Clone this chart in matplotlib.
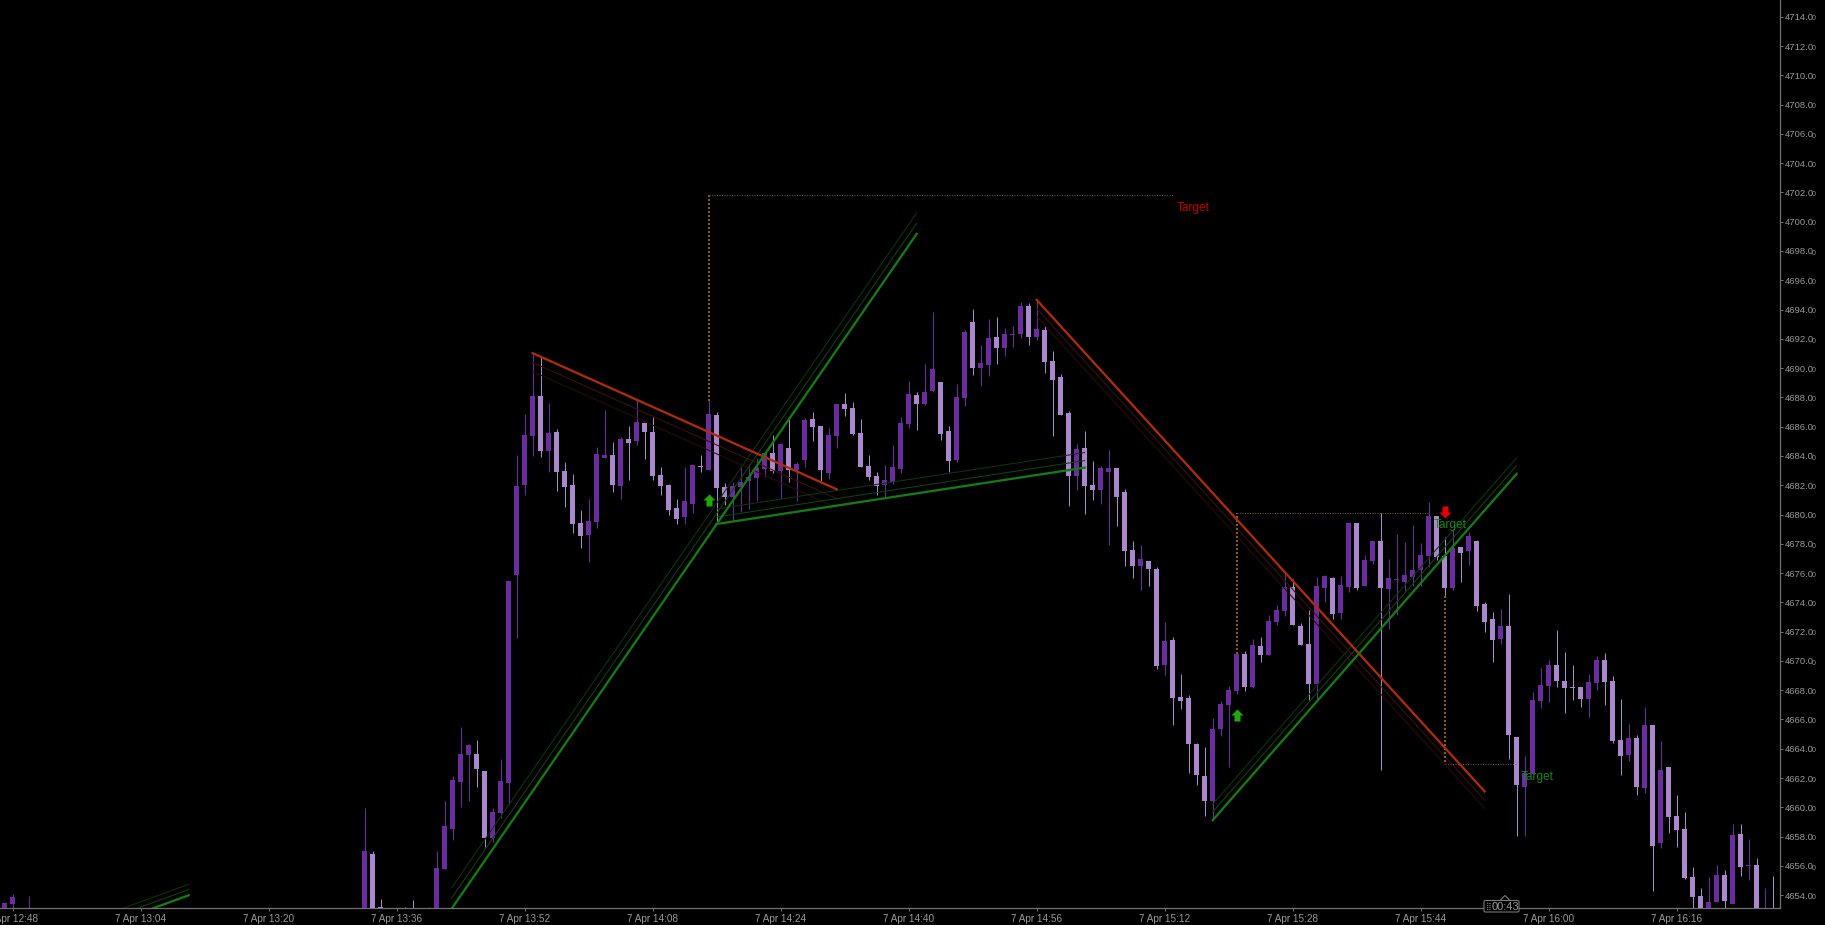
import matplotlib
matplotlib.use("Agg")
import matplotlib.pyplot as plt
from matplotlib.path import Path
from matplotlib.patches import FancyBboxPatch
from matplotlib.lines import Line2D

# candle minute offsets from 7 Apr 12:48
minutes = [-1, 0, 2, 44, 45, 46, 49, 50, 52] + list(range(53, 221))

opens = [4652.0,4653.4,4652.0,4652.0,4656.8,4653.18,4652.5,4652.5,4652.3,
4652.0,4655.8,4658.51,4661.72,4663.57,4663.63,4662.47,4657.89,4659.6,4661.67,
4675.86,4682.02,4685.36,4688.1,4684.34,4685.64,4682.97,4682.02,4679.42,4678.6,
4679.49,4683.86,4684.07,4681.95,4685.16,4685.02,4686.25,4685.64,4682.7,4682.02,
4680.44,4679.83,4680.72,4683.32,4683.04,4686.8,4681.88,4681.2,4681.88,4682.29,
4682.49,4683.11,4684.2,4682.97,4684.54,4683.04,4683.72,4686.53,4686.05,4682.84,
4685.36,4687.55,4687.28,4685.57,4683.31,4682.63,4682.02,4682.22,4683.11,4686.18,
4688.17,4687.55,4688.44,4689.05,4685.71,4683.72,4687.96,4693.15,4690.01,4690.22,
4692.13,4691.38,4692.27,4692.33,4694.25,4692.13,4692.61,4690.49,4689.4,4686.94,
4682.63,4684.54,4682.02,4681.67,4682.9,4683.18,4681.54,4677.57,4676.48,4676.82,
4676.28,4669.72,4671.42,4667.53,4667.46,4664.32,4662.13,4660.42,4665.34,4666.98,
4667.94,4670.47,4668.21,4671.01,4670.4,4672.65,4673.41,4675.05,4672.38,4671.15,
4668.42,4674.98,4675.66,4673.27,4675.05,4679.42,4675.11,4676.82,4678.19,4674.91,
4675.53,4675.39,4675.73,4676.21,4677.16,4679.9,4677.16,4674.98,4677.78,4677.51,
4678.19,4673.88,4672.86,4671.49,4672.38,4664.8,4661.38,4662.27,4667.26,4668.28,
4669.72,4668.62,4668.2,4668.21,4667.39,4668.49,4670.06,4668.62,4664.59,4663.56,
4664.73,4661.31,4665.62,4657.55,4662.74,4659.4,4658.51,4655.23,4653.93,4652.0,
4653.52,4655.36,4653.38,4658.17,4655.98,4656.05,4652.0,4652.5]

closes = [4653.45,4653.86,4652.5,4657.0,4652.0,4652.5,4652.3,4652.3,4652.5,
4655.84,4658.71,4661.86,4663.63,4664.25,4662.61,4657.89,4659.67,4661.79,4675.45,
4681.95,4685.43,4688.1,4684.34,4685.57,4682.9,4681.88,4679.35,4678.53,4679.56,
4684.13,4684.07,4682.02,4685.16,4684.89,4686.32,4685.64,4682.63,4681.95,4680.31,
4679.69,4680.92,4683.38,4683.26,4686.87,4681.81,4681.2,4681.95,4682.22,4682.56,
4683.18,4684.2,4682.97,4684.82,4683.04,4683.45,4686.46,4685.98,4683.04,4685.43,
4687.55,4687.21,4685.5,4683.25,4682.56,4681.95,4682.36,4683.25,4686.25,4688.23,
4687.55,4688.37,4689.94,4685.5,4683.66,4688.03,4692.47,4690.01,4690.35,4692.06,
4691.38,4692.33,4692.33,4694.25,4692.13,4692.68,4690.42,4689.19,4686.8,4682.63,
4684.48,4681.95,4681.67,4683.18,4683.18,4681.2,4677.51,4676.48,4676.96,4676.28,
4669.65,4671.36,4667.46,4667.26,4664.32,4662.2,4660.42,4665.34,4667.05,4668.01,
4670.47,4668.21,4671.08,4670.4,4672.72,4673.47,4675.05,4672.45,4671.08,4668.42,
4675.11,4675.8,4673.2,4675.18,4679.42,4674.98,4676.89,4678.19,4674.98,4675.66,
4675.59,4675.87,4676.21,4677.23,4679.9,4677.1,4674.98,4677.71,4677.37,4678.53,
4673.75,4672.65,4671.42,4672.38,4664.93,4661.51,4662.33,4667.32,4668.35,4669.72,
4668.62,4668.14,4668.14,4667.39,4668.55,4670.06,4668.55,4664.52,4663.5,4664.73,
4661.38,4665.62,4657.35,4662.54,4659.33,4658.44,4655.16,4653.86,4652.0,4653.52,
4655.36,4653.59,4658.1,4655.91,4656.04,4652.0,4652.5,4652.0]

highs = [4653.45,4654.07,4653.93,4659.94,4657.0,4653.72,4653.18,4653.66,4653.18,
4657.0,4660.42,4662.13,4665.48,4664.32,4664.59,4662.47,4659.94,4663.29,4675.45,
4684.07,4686.87,4691.01,4690.83,4687.62,4685.84,4683.59,4682.77,4680.31,4681.06,
4684.61,4687.14,4684.95,4685.3,4686.05,4687.89,4686.25,4686.66,4683.25,4682.08,
4681.06,4683.25,4683.38,4684.07,4687.82,4687.0,4682.15,4682.22,4683.25,4683.45,
4683.86,4684.2,4685.43,4684.89,4686.53,4683.59,4686.59,4687.0,4686.05,4685.91,
4687.55,4688.3,4687.69,4686.53,4684.07,4682.9,4683.38,4684.75,4686.66,4689.12,
4688.37,4690.28,4693.84,4689.05,4686.05,4688.92,4692.61,4694.04,4691.58,4693.36,
4693.5,4692.74,4692.88,4694.52,4694.45,4694.73,4692.88,4691.17,4689.6,4687.07,
4684.82,4685.71,4683.66,4683.31,4684.41,4683.18,4681.74,4678.19,4677.92,4676.82,
4676.41,4672.65,4671.63,4669.1,4667.67,4664.38,4664.11,4666.09,4667.26,4668.28,
4670.47,4670.67,4671.49,4671.63,4673.13,4673.82,4676.0,4675.59,4672.59,4673.47,
4675.73,4675.87,4675.73,4675.8,4679.42,4679.42,4677.23,4678.19,4680.1,4676.96,
4678.67,4678.12,4679.28,4678.05,4680.85,4679.9,4678.46,4678.94,4677.78,4678.8,
4678.26,4674.02,4673.34,4673.54,4674.57,4664.8,4663.5,4667.87,4669.51,4670.06,
4672.11,4670.6,4669.72,4668.21,4669.1,4670.33,4670.54,4668.96,4667.39,4665.68,
4664.93,4666.85,4665.62,4664.52,4662.74,4660.83,4659.67,4655.91,4654.48,4655.23,
4656.05,4655.71,4658.85,4658.85,4657.82,4656.53,4654.48,4655.3]

lows = [4652.0,4653.0,4652.0,4652.0,4652.0,4652.0,4652.0,4652.0,4652.0,
4652.0,4655.8,4657.76,4660.01,4660.42,4661.38,4657.28,4657.62,4659.26,4660.15,
4671.58,4681.33,4684.0,4683.93,4682.9,4681.61,4680.51,4678.74,4677.71,4676.75,
4679.08,4683.86,4681.54,4681.06,4682.36,4684.75,4683.79,4682.36,4681.33,4679.97,
4679.35,4679.35,4680.1,4682.9,4683.04,4679.35,4680.65,4679.56,4680.17,4680.38,
4680.92,4682.56,4682.84,4681.06,4682.22,4680.92,4683.25,4685.02,4682.29,4682.43,
4684.54,4686.73,4685.43,4683.25,4682.36,4681.33,4681.13,4682.08,4682.84,4685.91,
4685.77,4687.48,4688.37,4685.09,4682.9,4683.59,4687.41,4689.53,4688.78,4689.46,
4690.28,4690.83,4691.45,4692.06,4691.58,4691.92,4689.67,4685.36,4686.8,4680.58,
4681.67,4680.03,4680.99,4680.72,4677.92,4679.21,4676.48,4675.66,4674.84,4675.11,
4669.44,4669.03,4665.62,4666.71,4662.33,4661.51,4659.4,4659.12,4664.86,4662.74,
4667.73,4667.94,4668.14,4669.92,4670.4,4672.45,4673.06,4672.45,4671.08,4667.32,
4667.32,4674.02,4672.86,4672.86,4674.7,4674.84,4675.11,4676.62,4662.54,4672.18,
4673.13,4674.77,4675.11,4675.11,4676.41,4676.89,4674.43,4674.84,4675.39,4676.55,
4673.41,4671.97,4669.92,4671.15,4663.29,4658.03,4658.03,4662.27,4666.78,4667.19,
4668.21,4666.44,4667.32,4666.85,4666.16,4668.01,4666.98,4664.38,4662.2,4663.15,
4660.83,4660.97,4654.27,4657.21,4658.23,4657.28,4655.09,4652.5,4652.0,4652.0,
4653.52,4653.0,4653.38,4655.3,4655.02,4652.0,4652.0,4652.0]

# trend lines: (k0, p0, k1, p1) and the price offsets of their two fainter companions
red_main = [(65, 4691.02, 103, 4681.72), (128, 4694.66, 184, 4661.08)]
red_offsets = [(-0.64, -1.25), (-0.59, -1.14)]
green_main = [(10, 4651.6, 22, 4653.99), (54.84, 4653.05, 113, 4699.17),
              (88, 4679.35, 134, 4683.2), (150, 4659.12, 188, 4682.78)]
green_offsets = [(0.39, 0.75), (0.73, 1.43), (0.48, 1.03), (0.57, 1.09)]

# dotted target brackets
dotted_v = [(87, 4687.75, 4701.8), (153, 4670.5, 4680.12), (179, 4663.1, 4674.43)]
dotted_h = [(87, 145, 4701.8), (153, 177, 4680.12), (179, 188, 4662.93)]
targets = [(147.56, 4700.95, '#c40000'), (179.65, 4679.3, '#118a11'), (190.56, 4662.1, '#118a11')]
up_arrows_k = [87, 153]
up_arrows_p = [4680.99, 4666.3]
down_arrows_k = [179]
down_arrows_p = [4680.17]

y_ticks = list(range(4654, 4716, 2))
x_tick_k = list(range(0, 209, 16))
x_tick_labels = ['7 Apr 12:48', '7 Apr 13:04', '7 Apr 13:20', '7 Apr 13:36', '7 Apr 13:52',
                 '7 Apr 14:08', '7 Apr 14:24', '7 Apr 14:40', '7 Apr 14:56', '7 Apr 15:12',
                 '7 Apr 15:28', '7 Apr 15:44', '7 Apr 16:00', '7 Apr 16:16']

DARK = '#6a2c9f'
LIGHT = '#a988cd'
GRID = '#707070'
LABEL = '#989898'
FONT = 'Liberation Sans'
W, H = 1825, 925
X0 = 12.7      # pixel of minute offset 0
PX_PER_MIN = 8.0
Y4680 = 514.5  # pixel of price 4680
PX_PER_UNIT = 14.64

fig = plt.figure(figsize=(W / 100, H / 100), dpi=100, facecolor='black')
ax = fig.add_axes([0, (H - 908) / H, 1780 / W, 908 / H], facecolor='black')
ax.set_xlim(-X0 / PX_PER_MIN, (1780 - X0) / PX_PER_MIN)
ax.set_ylim(4680 - (908 - Y4680) / PX_PER_UNIT, 4680 + Y4680 / PX_PER_UNIT)

for k, o, h, l, c in zip(minutes, opens, highs, lows, closes):
    col = DARK if c >= o else LIGHT
    ax.vlines(k, l, h, color=col, lw=0.72, zorder=2)
    ax.bar(k, abs(c - o), bottom=min(o, c), width=0.625, color=col, lw=0, zorder=3)

for (k0, p0, k1, p1), offs in zip(red_main, red_offsets):
    for off, col in zip(offs[::-1], ['#2c0d05', '#3e1207']):
        ax.plot([k0, k1], [p0 + off, p1 + off], color=col, lw=0.75, zorder=4)
    ax.plot([k0, k1], [p0, p1], color='#b02c08', lw=1.65, zorder=5)
for (k0, p0, k1, p1), offs in zip(green_main, green_offsets):
    for off, col in zip(offs[::-1], ['#0b360b', '#0c450c']):
        ax.plot([k0, k1], [p0 + off, p1 + off], color=col, lw=0.75, zorder=4)
    ax.plot([k0, k1], [p0, p1], color='#137c13', lw=1.65, zorder=5)

for k, p0, p1 in dotted_v:
    ax.plot([k, k], [p0, p1], color='#8a5c14', lw=1.44, ls=(0, (1, 1)), zorder=4, dash_capstyle='butt')
for k0, k1, p in dotted_h:
    ax.plot([k0, k1], [p, p], color='#7a5a20', lw=0.72, ls=(0, (1, 1.5)), zorder=4, dash_capstyle='butt')

up = Path([(-2, 0), (0, 2), (2, 0), (1, 0), (1, -2), (-1, -2), (-1, 0), (-2, 0)], closed=True)
down = Path([(-2, 0), (0, -2), (2, 0), (1, 0), (1, 2), (-1, 2), (-1, 0), (-2, 0)], closed=True)
ax.scatter(up_arrows_k, up_arrows_p, marker=up, s=75, color='#1fa80a', lw=0, zorder=6)
ax.scatter(down_arrows_k, down_arrows_p, marker=down, s=75, color='#e00000', lw=0, zorder=6)

for k, p, col in targets:
    ax.text(k, p, 'Target', color=col, fontsize=8.6, family=FONT, ha='center', va='center', zorder=7)

for s in ['top', 'left']:
    ax.spines[s].set_visible(False)
for s in ['right', 'bottom']:
    ax.spines[s].set_color(GRID)
    ax.spines[s].set_linewidth(0.9)

ax.yaxis.tick_right()
ax.set_yticks(y_ticks)
ax.set_yticklabels([f'{v}.0' for v in y_ticks], family=FONT, fontsize=6.8, color=LABEL)
ax.tick_params(axis='y', length=2.2, width=0.72, color=GRID, pad=1)
ax.set_xticks(x_tick_k)
ax.set_xticklabels(x_tick_labels, family=FONT, fontsize=7.2, color=LABEL)
ax.tick_params(axis='x', length=2.2, width=0.72, color=GRID, pad=2.4)
for v in y_ticks:
    ax.annotate('0', xy=(1, v), xycoords=('axes fraction', 'data'), xytext=(22.8, -1.6),
                textcoords='offset points', color=LABEL, fontsize=5, family=FONT,
                ha='left', va='center', annotation_clip=False)

# countdown box
def fx(x): return x / W
def fy(y): return 1 - y / H
box = FancyBboxPatch((fx(1484), fy(912)), 35 / W, 11.5 / H, boxstyle='round,pad=0,rounding_size=0.001',
                     transform=fig.transFigure, fc='black', ec='#808080', lw=0.72, zorder=20)
fig.add_artist(box)
fig.add_artist(Line2D([fx(1500), fx(1505), fx(1510)], [fy(900.5), fy(895.5), fy(900.5)],
                      color='#808080', lw=0.72, zorder=21))
fig.text(fx(1489), fy(906.5), '⣿', color='#808080', fontsize=5.5, family='DejaVu Sans',
         ha='center', va='center', zorder=21)
fig.text(fx(1505), fy(906.8), '00:43', color='#989898', fontsize=8, family=FONT,
         ha='center', va='center', zorder=21)

fig.savefig('out.png', dpi=100, facecolor='black')
